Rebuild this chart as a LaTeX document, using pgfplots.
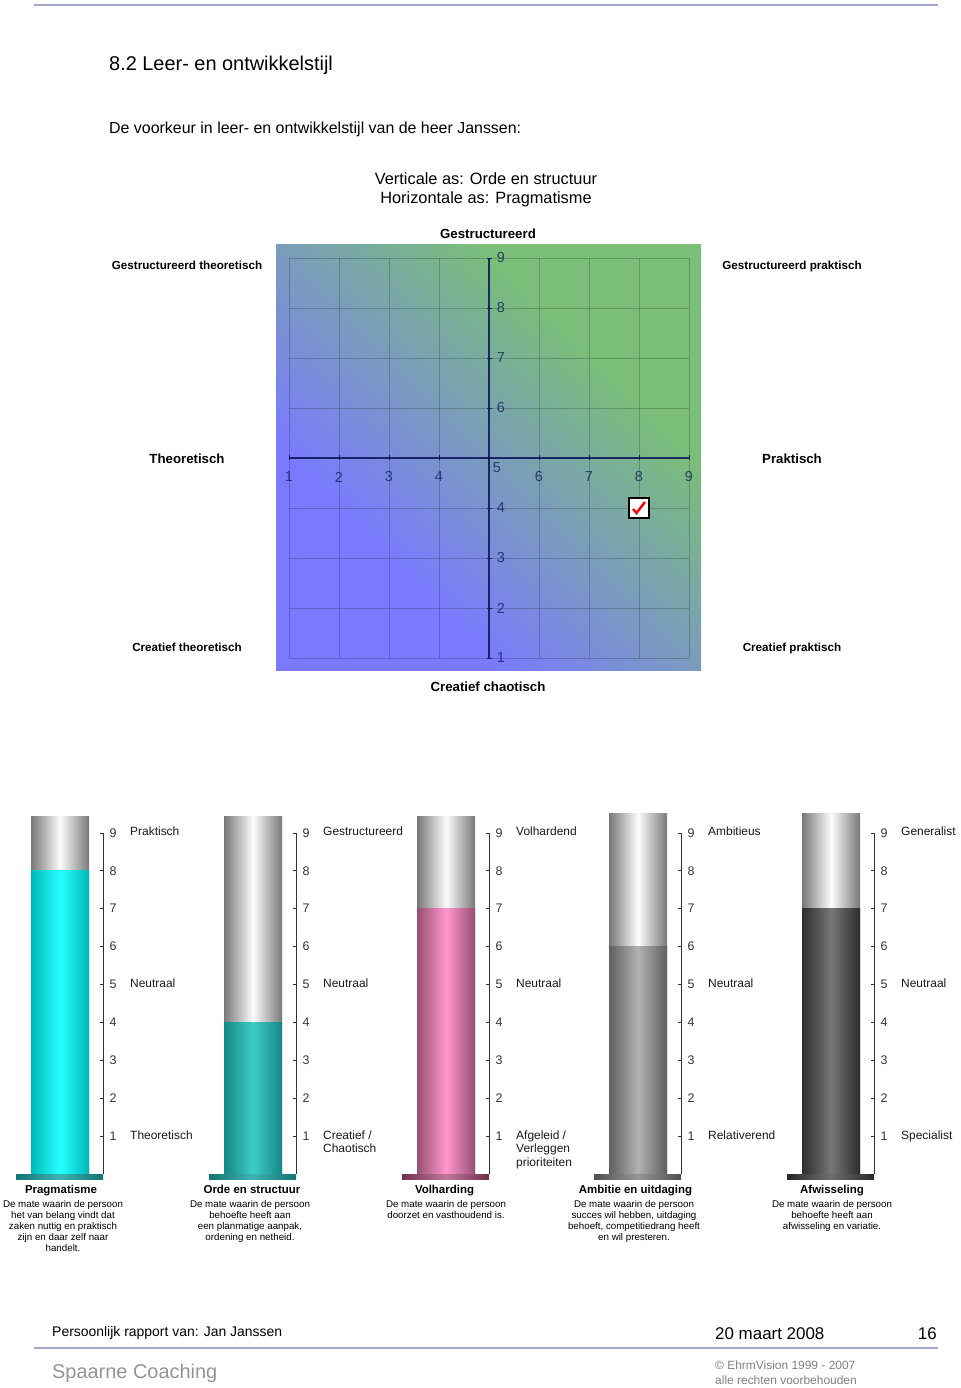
\documentclass[border=0pt]{standalone}
\usepackage{fontspec}
\setmainfont{Liberation Sans}
\usepackage{pgfplots}
\pgfplotsset{compat=1.18}

\definecolor{hdr}{RGB}{160,170,200}
\definecolor{qblue}{RGB}{122,122,255}
\definecolor{qgreen}{RGB}{122,190,122}
\definecolor{axisc}{RGB}{10,20,90}
\definecolor{tubeedge}{RGB}{120,120,120}
\definecolor{tubemid}{RGB}{252,252,252}
\definecolor{cAe}{RGB}{0,185,185}
\definecolor{cAm}{RGB}{40,255,255}
\definecolor{pAe}{RGB}{20,115,115}
\definecolor{pAm}{RGB}{60,180,180}
\definecolor{cBe}{RGB}{20,135,135}
\definecolor{cBm}{RGB}{60,205,200}
\definecolor{cCe}{RGB}{150,80,115}
\definecolor{cCm}{RGB}{255,150,205}
\definecolor{pCe}{RGB}{110,50,80}
\definecolor{pCm}{RGB}{190,120,150}
\definecolor{cDe}{RGB}{95,95,95}
\definecolor{cDm}{RGB}{178,178,178}
\definecolor{pDe}{RGB}{80,80,80}
\definecolor{pDm}{RGB}{150,150,150}
\definecolor{cEe}{RGB}{45,45,45}
\definecolor{cEm}{RGB}{118,118,118}
\definecolor{pEe}{RGB}{40,40,40}
\definecolor{pEm}{RGB}{110,110,110}

\pgfdeclareverticalshading{quadbg}{100bp}{color(0bp)=(qblue); color(33bp)=(qblue); color(67bp)=(qgreen); color(100bp)=(qgreen)}

\pgfdeclareplotmark{checkbox}{%
  \pgfpathrectangle{\pgfpoint{-10bp}{-10bp}}{\pgfpoint{20bp}{20bp}}%
  \pgfsetfillcolor{white}\pgfsetstrokecolor{black}\pgfsetlinewidth{1.8bp}%
  \pgfusepath{fill,stroke}%
  \pgfsetstrokecolor{red}\pgfsetlinewidth{2.4bp}%
  \pgfpathmoveto{\pgfpoint{-6bp}{-1bp}}%
  \pgfpathlineto{\pgfpoint{-2.5bp}{-5bp}}%
  \pgfpathlineto{\pgfpoint{6bp}{6bp}}%
  \pgfusepath{stroke}}

\newcommand\fs[1]{\fontsize{#1}{#1}\selectfont}

\tikzset{lbl/.style={font=\fs{12}, text=black!90, inner sep=0pt}}

\pgfplotsset{
  thermo/.style={
    scale only axis, anchor=south west,
    width=87bp, height=366.8bp,
    xmin=0, xmax=87, ymin=-0.158, ymax=9.52,
    clip=false,
    axis line style={draw=none},
    xtick=\empty, ytick={1,...,9},
    ytick pos=right, yticklabel pos=right,
    tick align=inside, major tick length=3bp,
    tick style={black!80, line width=0.6bp},
    /pgf/number format/assume math mode=true,
    yticklabel style={font=\fs{12.5}, text=black!80, xshift=3bp},
  },
}

% #1 left edge, #2 value, #3 tube top, #4/#5 fill colours, #6/#7 plate colours, #8 top label, #9 bottom label
\newcommand\thermo[9]{%
  \begin{axis}[thermo, at={(#1bp,208bp)}]
    \addplot[ybar, bar width=58, bar shift=0pt, draw=none,
      left color=tubeedge, right color=tubeedge, middle color=tubemid]
      coordinates {(44,#3)};
    \addplot[ybar, bar width=58, bar shift=0pt, draw=none,
      left color=#4, right color=#4, middle color=#5]
      coordinates {(44,#2)};
    \addplot[draw=none, left color=#6, right color=#6, middle color=#7]
      coordinates {(0,0) (87,0) (87,-0.158) (0,-0.158)} --cycle;
    \addplot[black!80, line width=0.8bp] coordinates {(87,0) (87,9)};
    \node[lbl, anchor=mid west, xshift=27bp] at (axis cs:87,9) {#8};
    \node[lbl, anchor=mid west, xshift=27bp] at (axis cs:87,5) {Neutraal};
    \node[lbl, anchor=north west, align=left, xshift=27bp, yshift=5.5bp,
      font=\fontsize{12}{13.5}\selectfont] at (axis cs:87,1) {#9};
  \end{axis}}

\begin{document}
\begin{tikzpicture}[x=1bp, y=1bp]
\path[use as bounding box] (0,0) rectangle (960,1388);

% header
\draw[hdr, line width=2bp] (34,1383) -- (938,1383);
\node[anchor=base west, inner sep=0pt, font=\fs{20}] at (109,1317) {8.2 Leer- en ontwikkelstijl};
\node[anchor=base west, inner sep=0pt, font=\fs{16}] at (109,1254) {De voorkeur in leer- en ontwikkelstijl van de heer Janssen:};
\node[anchor=base, inner sep=0pt, font=\fs{16.4}] at (486,1203) {Verticale as: Orde en structuur};
\node[anchor=base, inner sep=0pt, font=\fs{16.4}] at (486,1184) {Horizontale as: Pragmatisme};

% quadrant labels
\node[anchor=base, inner sep=0pt, font=\bfseries\fs{13.3}] at (488,1149) {Gestructureerd};
\node[anchor=base, inner sep=0pt, font=\bfseries\fs{13.3}] at (488,696) {Creatief chaotisch};
\node[anchor=base, inner sep=0pt, font=\bfseries\fs{11.7}] at (187,1118) {Gestructureerd theoretisch};
\node[anchor=base, inner sep=0pt, font=\bfseries\fs{11.7}] at (792,1118) {Gestructureerd praktisch};
\node[anchor=base, inner sep=0pt, font=\bfseries\fs{13.3}] at (187,924) {Theoretisch};
\node[anchor=base, inner sep=0pt, font=\bfseries\fs{13.3}] at (792,924) {Praktisch};
\node[anchor=base, inner sep=0pt, font=\bfseries\fs{11.7}] at (187,736) {Creatief theoretisch};
\node[anchor=base, inner sep=0pt, font=\bfseries\fs{11.7}] at (792,736) {Creatief praktisch};

% quadrant chart
\shade[shading=quadbg, shading angle=-45] (276,717) rectangle (701,1143);
\begin{axis}[
  at={(289bp,730bp)}, anchor=south west,
  scale only axis, width=400bp, height=400bp,
  xmin=1, xmax=9, ymin=1, ymax=9,
  clip=false,
  xtick={1,...,9}, ytick={1,...,9},
  xticklabels={1,2,3,4,,6,7,8,9},
  yticklabels={1,2,3,4,,6,7,8,9},
  grid=major,
  grid style={draw=black, draw opacity=0.2, line width=0.9bp},
  axis line style={draw=none},
  major tick length=0pt,
  ticklabel style={font=\fs{14.5}, text=axisc, text opacity=0.72},
  xticklabel style={anchor=center, yshift=181bp},
  yticklabel style={anchor=center, xshift=212bp},
]
  \addplot[axisc, draw opacity=0.85, line width=1.3bp] coordinates {(1,5) (9,5)};
  \addplot[axisc, draw opacity=0.85, line width=1.3bp] coordinates {(5,1) (5,9)};
  \addplot[axisc, only marks, mark=|, mark size=2.5bp, mark options={line width=0.9bp, draw opacity=0.85}]
    coordinates {(1,5) (2,5) (3,5) (4,5) (6,5) (7,5) (8,5) (9,5)};
  \addplot[axisc, only marks, mark=-, mark size=2.5bp, mark options={line width=0.9bp, draw opacity=0.85}]
    coordinates {(5,1) (5,2) (5,3) (5,4) (5,6) (5,7) (5,8) (5,9)};
  \node[font=\fs{14.5}, text=axisc, text opacity=0.72, inner sep=0pt] at (axis cs:5.16,4.8) {5};
  \addplot[only marks, mark=checkbox] coordinates {(8,4)};
\end{axis}

% thermometers
\thermo{16}{8}{9.42}{cAe}{cAm}{pAe}{pAm}{Praktisch}{Theoretisch}
\thermo{209}{4}{9.42}{cBe}{cBm}{pAe}{pAm}{Gestructureerd}{Creatief /\\Chaotisch}
\thermo{402}{7}{9.42}{cCe}{cCm}{pCe}{pCm}{Volhardend}{Afgeleid /\\Verleggen\\prioriteiten}
\thermo{594}{6}{9.52}{cDe}{cDm}{pDe}{pDm}{Ambitieus}{Relativerend}
\thermo{787}{7}{9.52}{cEe}{cEm}{pEe}{pEm}{Generalist}{Specialist}

% captions
\tikzset{capt/.style={anchor=base, inner sep=0pt, font=\bfseries\fs{11.5}},
         desc/.style={anchor=north, align=center, inner sep=0pt, font=\fontsize{9.8}{11}\selectfont}}
\node[capt] at (61,194) {Pragmatisme};
\node[desc] at (63,187.5) {De mate waarin de persoon\\het van belang vindt dat\\zaken nuttig en praktisch\\zijn en daar zelf naar\\handelt.};
\node[capt] at (252,194) {Orde en structuur};
\node[desc] at (250,187.5) {De mate waarin de persoon\\behoefte heeft aan\\een planmatige aanpak,\\ordening en netheid.};
\node[capt] at (444.5,194) {Volharding};
\node[desc] at (446,187.5) {De mate waarin de persoon\\doorzet en vasthoudend is.};
\node[capt] at (635.5,194) {Ambitie en uitdaging};
\node[desc] at (634,187.5) {De mate waarin de persoon\\succes wil hebben, uitdaging\\behoeft, competitiedrang heeft\\en wil presteren.};
\node[capt] at (832,194) {Afwisseling};
\node[desc] at (832,187.5) {De mate waarin de persoon\\behoefte heeft aan\\afwisseling en variatie.};

% footer
\node[anchor=base west, inner sep=0pt, font=\fs{14}] at (52,51) {Persoonlijk rapport van: Jan Janssen};
\node[anchor=base west, inner sep=0pt, font=\fs{17}] at (715,48) {20 maart 2008};
\node[anchor=base east, inner sep=0pt, font=\fs{17}] at (937,48) {16};
\draw[hdr, line width=2bp] (34,40) -- (938,40);
\node[anchor=base west, inner sep=0pt, font=\fs{20}, text=black!42] at (52,9) {Spaarne Coaching};
\node[anchor=base west, inner sep=0pt, font=\fs{12}, text=black!50] at (715,18) {© EhrmVision 1999 - 2007};
\node[anchor=base west, inner sep=0pt, font=\fs{12}, text=black!50] at (715,3) {alle rechten voorbehouden};
\end{tikzpicture}
\end{document}
